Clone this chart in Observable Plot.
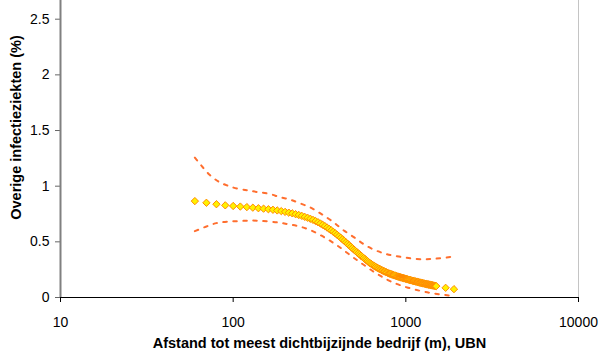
<!DOCTYPE html>
<html>
<head>
<meta charset="utf-8">
<script src="https://cdn.jsdelivr.net/npm/d3@7"></script>
<script src="https://cdn.jsdelivr.net/npm/@observablehq/plot@0.6"></script>
<style>
  html, body { margin: 0; padding: 0; background: #fff; }
</style>
</head>
<body>
<div id="chart"></div>
<script>
// Distance to nearest farm (m) for each diamond marker
const distance = [60,70,80,90,100,110,120,130,140,150,160,170,180,190,200,210,220,230,240,250,260,270,280,290,300,310,320,330,340,350,360,370,380,390,400,410,420,430,440,450,460,470,480,490,500,510,520,530,540,550,560,570,580,590,600,610,620,630,640,650,660,670,680,690,700,710,720,730,740,750,760,770,780,790,800,810,820,830,840,850,860,870,880,890,900,910,920,930,940,950,960,970,980,990,1000,1010,1020,1030,1040,1050,1060,1070,1080,1090,1100,1110,1120,1130,1140,1150,1160,1170,1180,1190,1200,1210,1220,1230,1240,1250,1260,1270,1280,1290,1300,1310,1320,1330,1340,1350,1360,1370,1380,1390,1400,1410,1420,1430,1440,1450,1460,1470,1480,1490,1500,1700,1900];

// Estimated percentage "Overige infectieziekten"
const infection = [
  0.866,0.851,0.838,0.828,0.822,0.817,0.812,0.807,0.802,0.798,0.793,0.788,
  0.782,0.776,0.769,0.762,0.756,0.748,0.741,0.733,0.724,0.716,0.707,0.697,0.687,0.676,0.665,0.653,0.641,0.628,0.616,0.603,0.590,0.577,0.563,0.550,0.536,0.522,0.509,0.495,0.482,0.469,0.456,0.443,
  0.430,0.419,0.408,0.397,0.386,0.375,0.365,0.355,0.345,0.335,0.326,0.317,0.309,0.301,0.294,0.287,0.281,0.275,0.269,0.263,0.258,0.253,0.248,0.243,0.239,0.235,0.231,0.227,0.223,0.219,0.216,0.213,0.210,0.207,0.204,0.201,0.198,0.196,0.193,0.190,
  0.188,0.186,0.184,0.182,0.180,0.178,0.176,0.174,0.172,0.170,
  0.168,0.166,0.164,0.162,0.160,0.158,0.156,0.154,0.153,0.151,
  0.150,0.148,0.147,0.145,0.144,0.142,0.141,0.139,0.138,0.136,
  0.135,0.134,0.132,0.131,0.130,0.128,0.127,0.126,0.125,0.124,
  0.122,0.121,0.120,0.119,0.118,0.117,0.116,0.115,0.114,0.113,
  0.112,0.111,0.110,0.109,0.108,0.107,0.106,0.105,0.104,0.103,
  0.102,0.087,0.075
];

// Upper confidence bound (dashed)
const upperDistance = [60,66,73,82,92,106,122,139,161,186,212,242,277,313,355,397,443,500,561,636,728,832,962,1110,1284,1460,1680,1910];
const upperValue = [1.256,1.178,1.103,1.043,1.007,0.977,0.962,0.947,0.932,0.902,0.881,0.848,0.812,0.765,0.710,0.654,0.596,0.542,0.486,0.438,0.402,0.378,0.362,0.348,0.344,0.348,0.357,0.371];

// Lower confidence bound (dashed)
const lowerDistance = [60,70,80,92,106,122,139,161,186,212,242,277,316,358,404,452,508,570,643,722,819,937,1087,1258,1450,1660,1900];
const lowerValue = [0.596,0.638,0.668,0.681,0.686,0.690,0.690,0.683,0.672,0.656,0.638,0.608,0.565,0.517,0.463,0.407,0.348,0.294,0.237,0.189,0.144,0.108,0.078,0.054,0.036,0.024,0.012];

const xTicks = [10, 100, 1000, 10000];
const yTicks = [0, 0.5, 1, 1.5, 2, 2.5];
const xTitle = "Afstand tot meest dichtbijzijnde bedrijf (m), UBN";
const yTitle = "Overige infectieziekten (%)";

const points = distance.map((d, i) => ({x: d, y: infection[i]}));
const upper = upperDistance.map((d, i) => ({x: d, y: upperValue[i]}));
const lower = lowerDistance.map((d, i) => ({x: d, y: lowerValue[i]}));

const dashColor = "#FF6E2E";

const chart = Plot.plot({
  width: 606,
  height: 363,
  marginLeft: 60,
  marginRight: 28,
  marginTop: 0,
  marginBottom: 66,
  style: {fontFamily: "'Liberation Sans', Arial, Helvetica, sans-serif", fontSize: "14px", color: "#000", background: "#fff"},
  x: {type: "log", domain: [10, 10000]},
  y: {domain: [0, 2.668]},
  marks: [
    Plot.ruleX([10000], {stroke: "#c4c4c4", strokeWidth: 1}),
    Plot.axisX({ticks: xTicks, tickFormat: d => String(d), tickSize: 5, tickPadding: 15, label: null, stroke: "#000", fontSize: 14}),
    Plot.axisY({ticks: yTicks, tickFormat: d => String(d), tickSize: 5, tickPadding: 6, label: null, stroke: "#666", fontSize: 14}),
    Plot.ruleX([10], {stroke: "#808080", strokeWidth: 2}),
    Plot.ruleY([0], {stroke: "#000", strokeWidth: 1}),
    Plot.line(upper, {x: "x", y: "y", stroke: dashColor, strokeWidth: 2, strokeDasharray: "3.5,6.5", curve: "natural"}),
    Plot.line(lower, {x: "x", y: "y", stroke: dashColor, strokeWidth: 2, strokeDasharray: "3.5,6.5", curve: "natural"}),
    Plot.dot(points, {x: "x", y: "y", symbol: "diamond2", r: 3.3, fill: "#FFF200", stroke: "#FF8A00", strokeWidth: 1}),
    Plot.text([xTitle], {frameAnchor: "bottom", dy: 50, fontWeight: "bold", fontSize: 14.5, fill: "#000"}),
    Plot.text([yTitle], {frameAnchor: "left", textAnchor: "middle", rotate: -90, dx: -44.5, dy: -21.5, fontWeight: "bold", fontSize: 14.5, fill: "#000"})
  ]
});

document.getElementById("chart").appendChild(chart);
</script>
</body>
</html>
